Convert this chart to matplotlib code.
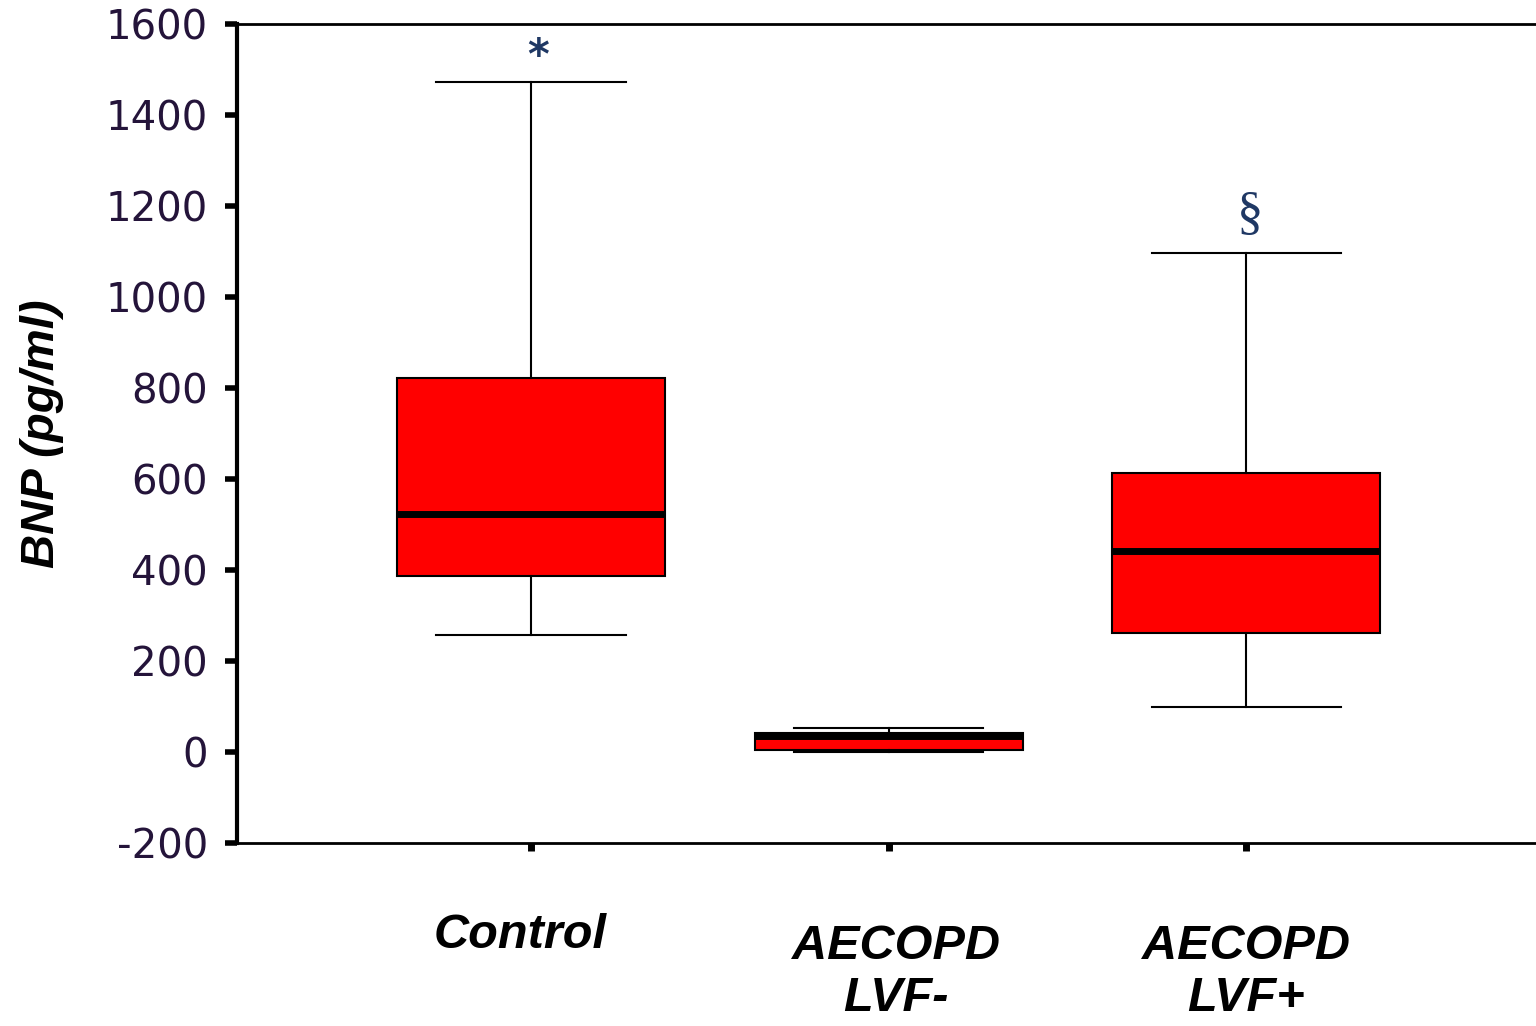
import matplotlib.pyplot as plt

groups = ['Control', 'AECOPD\nLVF-', 'AECOPD\nLVF+']
positions = [1, 2, 3]

# five-number summaries (pg/ml)
whisker_low = [258, 0, 99]
q1 = [387, 4, 262]
median = [522, 34, 442]
q3 = [823, 42, 614]
whisker_high = [1472, 53, 1096]

# significance marks above the upper whiskers
marks = ['*', '', '§']
mark_y = [1528, None, 1180]

yticks = [-200, 0, 200, 400, 600, 800, 1000, 1200, 1400, 1600]

stats = []
for i in range(len(groups)):
    stats.append({'whislo': whisker_low[i], 'q1': q1[i], 'med': median[i],
                  'q3': q3[i], 'whishi': whisker_high[i], 'fliers': []})

fig = plt.figure(figsize=(15.36, 10.26), dpi=100)
ax = fig.add_axes([0.1543, 0.1784, 0.876, 0.7982])

ax.bxp(stats, positions=positions, widths=0.75, showfliers=False,
       patch_artist=True,
       boxprops=dict(facecolor='#ff0000', edgecolor='black', linewidth=1.5),
       medianprops=dict(color='black', linewidth=5),
       whiskerprops=dict(color='black', linewidth=1.5),
       capprops=dict(color='black', linewidth=1.5),
       capwidths=0.53)

ax.set_xlim(0.178, 3.94)
ax.set_ylim(-200, 1600)
ax.set_yticks(yticks)
ax.set_yticklabels([str(t) for t in yticks], fontsize=29,
                   family='DejaVu Sans', color='#24143a')
ax.set_xticks(positions)
ax.set_xticklabels(['', '', ''])
ax.tick_params(axis='y', length=9, width=4, pad=12, direction='out')
ax.tick_params(axis='x', length=6, width=5, direction='out')

ax.spines['left'].set_linewidth(3)
ax.spines['bottom'].set_linewidth(2)
ax.spines['top'].set_linewidth(2)
ax.spines['right'].set_visible(False)

ax.set_ylabel('BNP (pg/ml)', fontsize=34, fontweight='bold', style='italic',
              family='Liberation Sans', labelpad=30)

# group names under the axis
label_x = [0.97, 2.02, 3.0]
label_y = [-0.113, -0.158, -0.158]
for x, y, name in zip(label_x, label_y, groups):
    ax.text(x, y, name, transform=ax.get_xaxis_transform(), ha='center',
            va='center', fontsize=35, fontweight='bold', style='italic',
            family='Liberation Sans', linespacing=1.22)

ax.text(1.02, mark_y[0], marks[0], ha='center', va='center', fontsize=30,
        fontweight='bold', color='#1f3864')
ax.text(3.01, mark_y[2], marks[2], ha='center', va='center', fontsize=38,
        family='Liberation Serif', color='#1f3864')

fig.savefig('out.png', dpi=100)
